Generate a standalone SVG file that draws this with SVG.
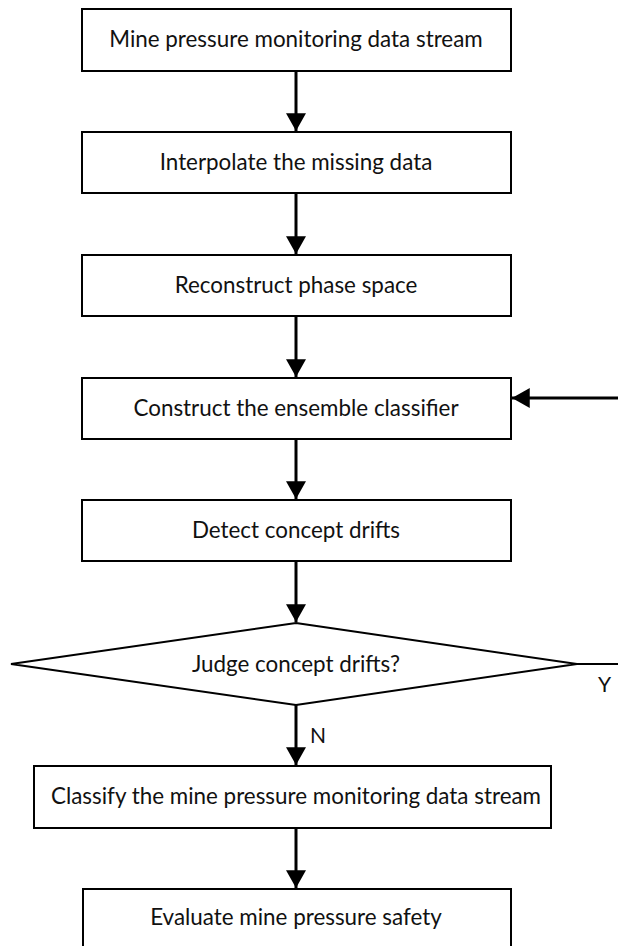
<svg xmlns="http://www.w3.org/2000/svg" width="618" height="946" viewBox="0 0 618 946">
<style>
.box{fill:#fff;stroke:#000;stroke-width:2}
.lbl{font-family:Lato,"Open Sans",sans-serif;font-size:22.4px;fill:#111;text-anchor:middle}
.yn{font-family:Lato,"Open Sans",sans-serif;font-size:21px;fill:#111}
.conn{stroke:#000;stroke-width:3;fill:none}
</style>
<defs>
<marker id="ah" markerUnits="userSpaceOnUse" markerWidth="20" markerHeight="20" viewBox="0 0 16 18" refX="16" refY="9" orient="auto">
<path d="M0,0 L16,9 L0,18 Z" fill="#000"/>
</marker>
</defs>
<rect x="0" y="0" width="618" height="946" fill="#fff"/>
<g id="connectors">
<line class="conn" x1="296" y1="71" x2="296" y2="131" marker-end="url(#ah)"/>
<line class="conn" x1="296" y1="193" x2="296" y2="254" marker-end="url(#ah)"/>
<line class="conn" x1="296" y1="316" x2="296" y2="377" marker-end="url(#ah)"/>
<line class="conn" x1="296" y1="439" x2="296" y2="499" marker-end="url(#ah)"/>
<line class="conn" x1="296" y1="561" x2="296" y2="622" marker-end="url(#ah)"/>
<line class="conn" x1="296" y1="705" x2="296" y2="765" marker-end="url(#ah)"/>
<line class="conn" x1="296" y1="828" x2="296" y2="888" marker-end="url(#ah)"/>
<line class="conn" x1="618" y1="398" x2="512" y2="398" marker-end="url(#ah)"/>
<line x1="577" y1="664" x2="618" y2="664" stroke="#000" stroke-width="2"/>
<text class="yn" x="598" y="692">Y</text>
<text class="yn" x="310" y="743">N</text>
</g>
<g id="n1"><rect class="box" x="82" y="9" width="429" height="62"/><text class="lbl" x="296" y="47">Mine pressure monitoring data stream</text></g>
<g id="n2"><rect class="box" x="82" y="132" width="429" height="61"/><text class="lbl" x="296" y="170">Interpolate the missing data</text></g>
<g id="n3"><rect class="box" x="82" y="255" width="429" height="61"/><text class="lbl" x="296" y="293">Reconstruct phase space</text></g>
<g id="n4"><rect class="box" x="82" y="378" width="429" height="61"/><text class="lbl" x="296" y="416">Construct the ensemble classifier</text></g>
<g id="n5"><rect class="box" x="82" y="500" width="429" height="61"/><text class="lbl" x="296" y="538">Detect concept drifts</text></g>
<g id="n6"><polygon class="box" points="296,623 577,664 296,705 11,664"/><text class="lbl" x="296" y="672">Judge concept drifts?</text></g>
<g id="n7"><rect class="box" x="34" y="766" width="517" height="62"/><text class="lbl" x="296" y="804">Classify the mine pressure monitoring data stream</text></g>
<g id="n8"><rect class="box" x="83" y="889" width="428" height="63"/><text class="lbl" x="296" y="925">Evaluate mine pressure safety</text></g>
</svg>
